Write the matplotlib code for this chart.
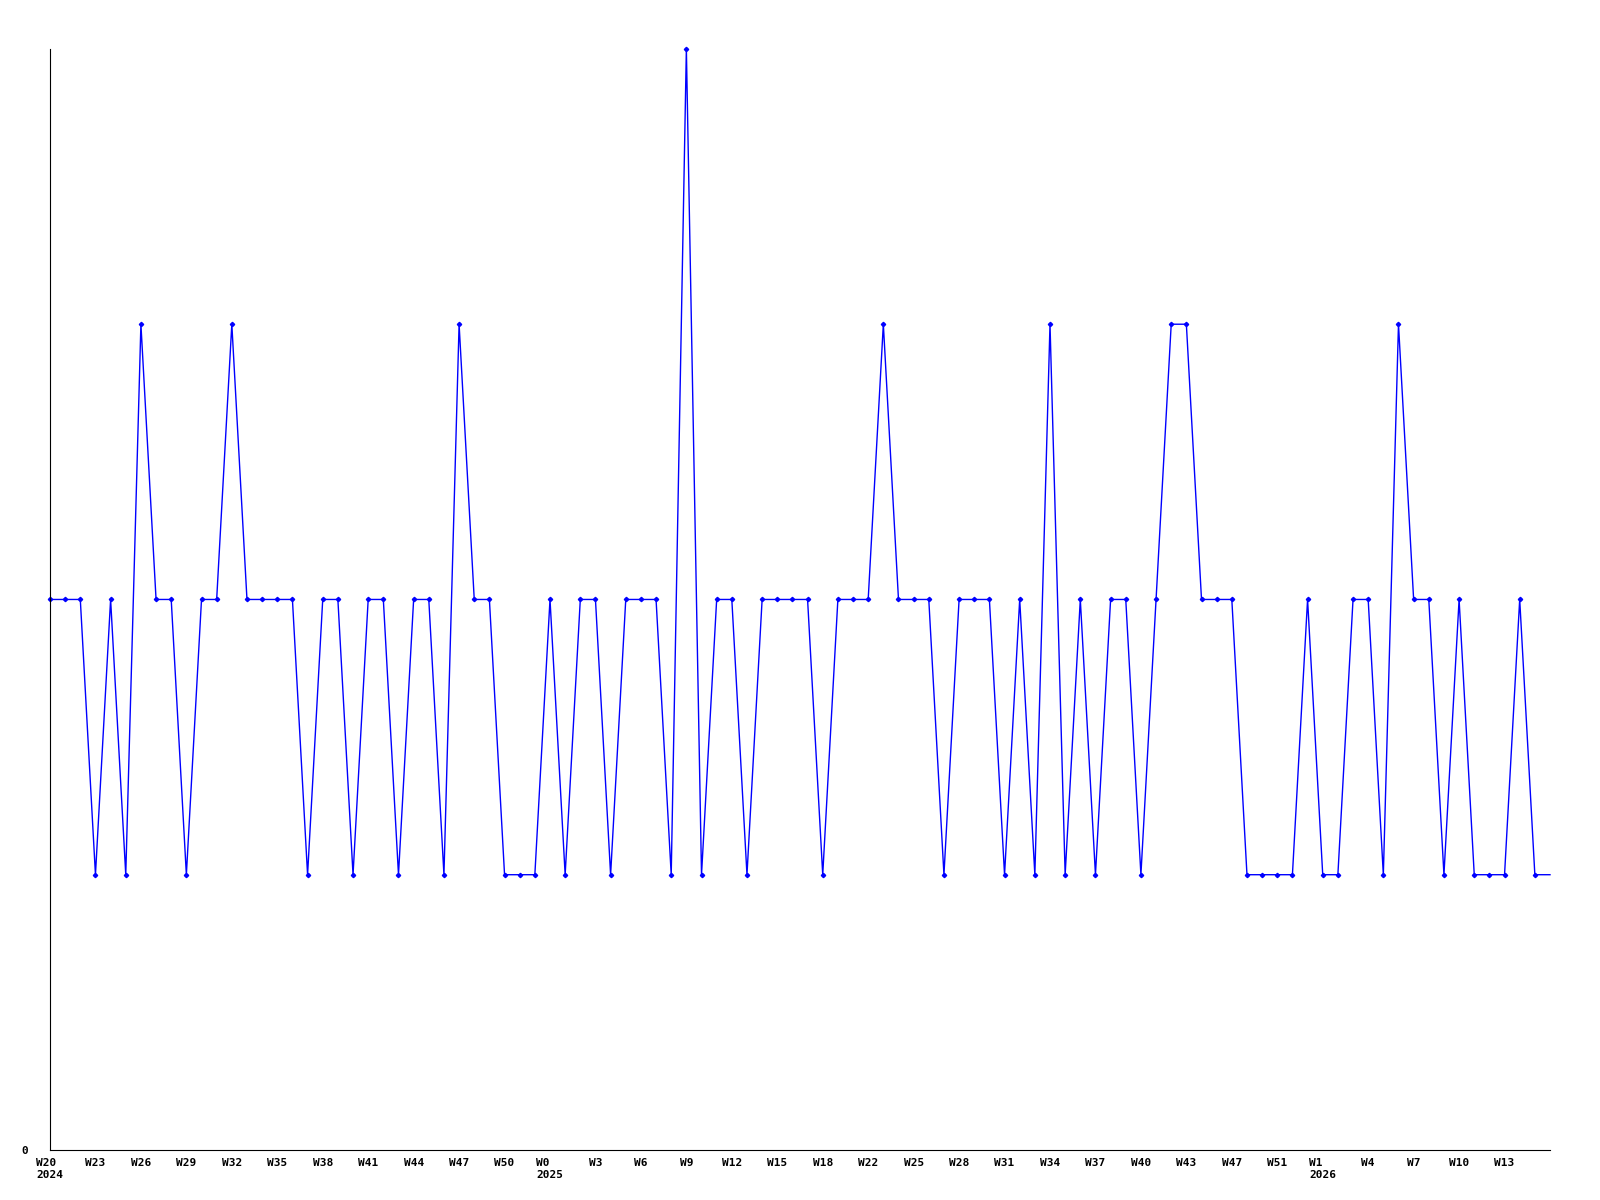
import matplotlib
matplotlib.use("Agg")
import matplotlib.pyplot as plt

# Weekly counts, one value per week starting W20 2024
values = [2, 2, 2, 1, 2, 1, 3, 2, 2, 1,
          2, 2, 3, 2, 2, 2, 2, 1, 2, 2,
          1, 2, 2, 1, 2, 2, 1, 3, 2, 2,
          1, 1, 1, 2, 1, 2, 2, 1, 2, 2,
          2, 1, 4, 1, 2, 2, 1, 2, 2, 2,
          2, 1, 2, 2, 2, 3, 2, 2, 2, 1,
          2, 2, 2, 1, 2, 1, 3, 1, 2, 1,
          2, 2, 1, 2, 3, 3, 2, 2, 2, 1,
          1, 1, 1, 2, 1, 1, 2, 2, 1, 3,
          2, 2, 1, 2, 1, 1, 1, 2, 1, 1]

tick_labels = ["W20\n2024", "W23", "W26", "W29", "W32", "W35", "W38", "W41",
               "W44", "W47", "W50", "W0\n2025", "W3", "W6", "W9", "W12", "W15",
               "W18", "W22", "W25", "W28", "W31", "W34", "W37", "W40", "W43",
               "W47", "W51", "W1\n2026", "W4", "W7", "W10", "W13"]

x = list(range(len(values)))
tick_pos = list(range(0, 3 * len(tick_labels), 3))

fig = plt.figure(figsize=(16, 12), dpi=100)
ax = fig.add_axes([0.03125, 0.0417, 0.9375, 0.9175])

# the last week runs into the right edge without a marker
ax.plot(x, values, color="#0000ff", linewidth=1, marker="D", markersize=2.2,
        markevery=list(range(len(values) - 1)), clip_on=False)

ax.set_xlim(0, len(values) - 1)
ax.set_ylim(0, 4)

ax.set_xticks(tick_pos)
ax.set_xticklabels(tick_labels, family="DejaVu Sans Mono", fontweight="bold",
                   fontsize=8, multialignment="left")
ax.set_yticks([0])
ax.set_yticklabels(["0"], family="DejaVu Sans Mono", fontweight="bold", fontsize=8)
ax.tick_params(length=0)
ax.tick_params(axis="x", pad=6)
ax.tick_params(axis="y", pad=16)

ax.spines["top"].set_visible(False)
ax.spines["right"].set_visible(False)

fig.savefig("out.png", dpi=100)
